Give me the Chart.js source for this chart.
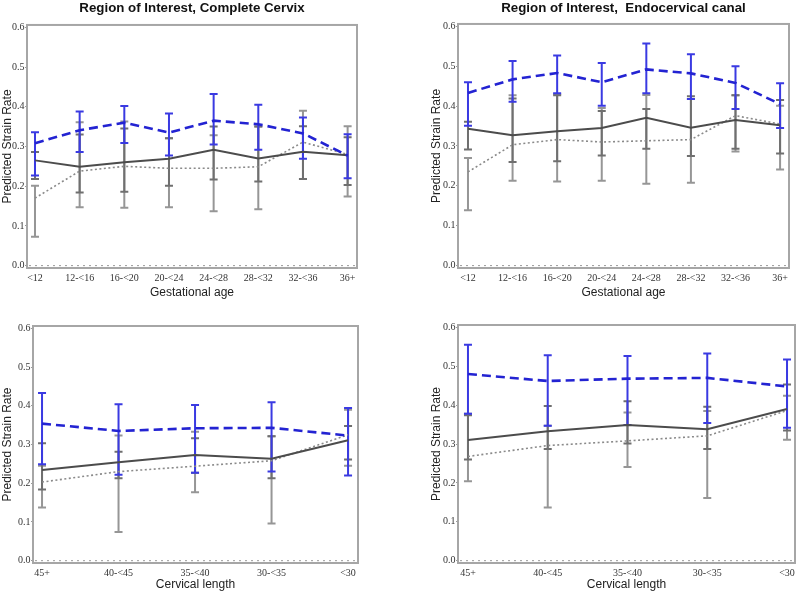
<!DOCTYPE html>
<html><head><meta charset="utf-8">
<script src="https://cdn.jsdelivr.net/npm/chart.js@4"></script>
<style>
html,body{margin:0;padding:0;background:#fff}
body{width:800px;height:595px;position:relative;overflow:hidden}
canvas{position:absolute;display:block}
</style></head><body>
<canvas id="c1" width="400" height="300" style="left:0;top:0;width:400px;height:300px"></canvas>
<canvas id="c2" width="400" height="300" style="left:400px;top:0;width:400px;height:300px"></canvas>
<canvas id="c3" width="400" height="295" style="left:0;top:300px;width:400px;height:295px"></canvas>
<canvas id="c4" width="400" height="295" style="left:400px;top:300px;width:400px;height:295px"></canvas>
<script>
// ---- categories & tick labels ----
const gestAge = ['<12','12-<16','16-<20','20-<24','24-<28','28-<32','32-<36','36+'];
const cervLen = ['45+','40-<45','35-<40','30-<35','<30'];
const yTicks = [0, 0.1, 0.2, 0.3, 0.4, 0.5, 0.6];

// ---- Panel 1: Complete Cervix vs gestational age ----
const ccBlue    = [0.308, 0.341, 0.360, 0.335, 0.365, 0.356, 0.333, 0.277];
const ccBlueLo  = [0.227, 0.286, 0.309, 0.277, 0.305, 0.292, 0.269, 0.220];
const ccBlueHi  = [0.336, 0.388, 0.402, 0.383, 0.432, 0.405, 0.373, 0.331];
const ccSolid   = [0.265, 0.249, 0.260, 0.269, 0.292, 0.270, 0.287, 0.278];
const ccSolidLo = [0.218, 0.184, 0.186, 0.201, 0.217, 0.212, 0.218, 0.203];
const ccSolidHi = [0.286, 0.330, 0.345, 0.321, 0.350, 0.350, 0.351, 0.323];
const ccDot     = [0.170, 0.238, 0.250, 0.245, 0.245, 0.249, 0.311, 0.280];
const ccDotLo   = [0.073, 0.147, 0.146, 0.147, 0.137, 0.142, 0.218, 0.174];
const ccDotHi   = [0.201, 0.361, 0.363, 0.321, 0.328, 0.350, 0.390, 0.351];

// ---- Panel 2: Endocervical canal vs gestational age ----
const ecBlue    = [0.433, 0.467, 0.483, 0.460, 0.492, 0.482, 0.458, 0.405];
const ecBlueLo  = [0.351, 0.411, 0.432, 0.401, 0.432, 0.418, 0.393, 0.345];
const ecBlueHi  = [0.460, 0.513, 0.527, 0.508, 0.557, 0.530, 0.500, 0.457];
const ecSolid   = [0.343, 0.327, 0.337, 0.345, 0.371, 0.346, 0.365, 0.352];
const ecSolidLo = [0.291, 0.260, 0.262, 0.276, 0.293, 0.275, 0.293, 0.281];
const ecSolidHi = [0.361, 0.419, 0.427, 0.388, 0.393, 0.425, 0.427, 0.415];
const ecDot     = [0.235, 0.303, 0.316, 0.310, 0.313, 0.316, 0.376, 0.355];
const ecDotLo   = [0.139, 0.213, 0.211, 0.213, 0.205, 0.208, 0.286, 0.241];
const ecDotHi   = [0.270, 0.427, 0.430, 0.395, 0.428, 0.418, 0.427, 0.401];

// ---- Panel 3: Complete Cervix vs cervical length ----
const clBlue    = [0.354, 0.335, 0.342, 0.343, 0.323];
const clBlueLo  = [0.249, 0.222, 0.227, 0.230, 0.220];
const clBlueHi  = [0.433, 0.404, 0.402, 0.409, 0.394];
const clSolid   = [0.234, 0.254, 0.273, 0.263, 0.311];
const clSolidLo = [0.184, 0.213, 0.227, 0.213, 0.261];
const clSolidHi = [0.303, 0.281, 0.316, 0.321, 0.348];
const clDot     = [0.203, 0.230, 0.244, 0.258, 0.325];
const clDotLo   = [0.137, 0.074, 0.177, 0.096, 0.245];
const clDotHi   = [0.245, 0.323, 0.333, 0.321, 0.390];

// ---- Panel 4: Endocervical canal vs cervical length ----
const elBlue    = [0.480, 0.462, 0.468, 0.470, 0.448];
const elBlueLo  = [0.378, 0.347, 0.349, 0.354, 0.342];
const elBlueHi  = [0.555, 0.528, 0.526, 0.533, 0.517];
const elSolid   = [0.310, 0.333, 0.349, 0.338, 0.390];
const elSolidLo = [0.260, 0.287, 0.301, 0.287, 0.335];
const elSolidHi = [0.374, 0.398, 0.410, 0.396, 0.453];
const elDot     = [0.268, 0.296, 0.308, 0.321, 0.386];
const elDotLo   = [0.204, 0.137, 0.241, 0.161, 0.311];
const elDotHi   = [0.378, 0.347, 0.381, 0.385, 0.424];

// ---- plugins ----
const frame = {
  id: 'frame',
  beforeDatasetsDraw(chart) {
    const {ctx, chartArea: a, scales: {y}} = chart;
    ctx.save();
    const y0 = y.getPixelForValue(0);
    ctx.strokeStyle = '#9a9a9a'; ctx.lineWidth = 1; ctx.setLineDash([2, 4]);
    ctx.beginPath(); ctx.moveTo(a.left + 2, y0); ctx.lineTo(a.right - 2, y0); ctx.stroke();
    ctx.setLineDash([]);
    ctx.strokeStyle = '#a6a6a6'; ctx.lineWidth = 2;
    ctx.strokeRect(a.left, a.top, a.right - a.left, a.bottom - a.top);
    ctx.restore();
  }
};
const errorBars = {
  id: 'errorBars',
  beforeDatasetsDraw(chart) {
    const {ctx, scales: {x, y}} = chart;
    ctx.save();
    ctx.setLineDash([]);
    const ds = chart.data.datasets;
    for (let d = ds.length - 1; d >= 0; d--) {
      const s = ds[d];
      ctx.strokeStyle = s.errColor; ctx.lineWidth = s.errWidth;
      s.errLo.forEach((lo, i) => {
        const px = x.getPixelForValue(i);
        const y1 = y.getPixelForValue(lo), y2 = y.getPixelForValue(s.errHi[i]);
        ctx.beginPath();
        ctx.moveTo(px, y1); ctx.lineTo(px, y2);
        ctx.moveTo(px - 4, y1); ctx.lineTo(px + 4, y1);
        ctx.moveTo(px - 4, y2); ctx.lineTo(px + 4, y2);
        ctx.stroke();
      });
    }
    ctx.restore();
  }
};

function pts(arr) { return arr.map((v, i) => ({x: i, y: v})); }

function makeChart(id, o) {
  const labels = o.labels;
  return new Chart(document.getElementById(id), {
    type: 'line',
    data: {
      datasets: [
        {data: pts(o.blue), errLo: o.blueLo, errHi: o.blueHi, errColor: '#3a3ae2', errWidth: 2,
         borderColor: '#2323d2', borderWidth: 2.6, borderDash: [9, 5], pointRadius: 0, fill: false, tension: 0},
        {data: pts(o.solid), errLo: o.solidLo, errHi: o.solidHi, errColor: '#6f6f6f', errWidth: 2,
         borderColor: '#4c4c4c', borderWidth: 2, pointRadius: 0, fill: false, tension: 0},
        {data: pts(o.dot), errLo: o.dotLo, errHi: o.dotHi, errColor: '#969696', errWidth: 2,
         borderColor: '#8a8a8a', borderWidth: 1.6, borderDash: [2, 2.5], pointRadius: 0, fill: false, tension: 0}
      ]
    },
    options: {
      responsive: false, animation: false, events: [],
      layout: {padding: o.pad},
      plugins: {
        legend: {display: false}, tooltip: {enabled: false},
        title: o.title ? {display: true, text: o.title, fullSize: false, color: '#111',
          font: {family: 'Liberation Sans', size: 13.3, weight: 'bold'},
          padding: {top: 0.5, bottom: o.titleGap}} : {display: false}
      },
      scales: {
        x: {
          type: 'linear', min: o.xmin, max: o.xmax,
          afterBuildTicks: s => { s.ticks = labels.map((_, i) => ({value: i})); },
          afterFit: s => { s.height = o.xh; },
          ticks: {callback: v => labels[v], autoSkip: false, maxRotation: 0, padding: 4,
                  color: '#333', font: {family: 'Liberation Serif', size: 10}},
          grid: {drawOnChartArea: false, drawTicks: false},
          border: {display: false},
          title: {display: true, text: o.xTitle, color: '#222', padding: 0,
                  font: {family: 'Liberation Sans', size: 12}}
        },
        y: {
          min: -0.006, max: 0.606,
          afterBuildTicks: s => { s.ticks = yTicks.map(v => ({value: v})); },
          afterFit: s => { s.width = o.yw; },
          ticks: {callback: v => v.toFixed(1), padding: 0.5, color: '#333',
                  font: {family: 'Liberation Serif', size: 10}},
          grid: {drawOnChartArea: false, tickLength: 2, color: '#999'},
          border: {display: false},
          title: {display: true, text: 'Predicted Strain Rate', color: '#222', padding: 0,
                  font: {family: 'Liberation Sans', size: 12}}
        }
      }
    },
    plugins: [frame, errorBars]
  });
}

makeChart('c1', {labels: gestAge, title: 'Region of Interest, Complete Cervix', titleGap: 8.5,
  blue: ccBlue, blueLo: ccBlueLo, blueHi: ccBlueHi, solid: ccSolid, solidLo: ccSolidLo, solidHi: ccSolidHi,
  dot: ccDot, dotLo: ccDotLo, dotHi: ccDotHi, xTitle: 'Gestational age',
  pad: {left: 0, right: 43, top: 0, bottom: 0}, yw: 27, xh: 32, xmin: -0.179, xmax: 7.21});

makeChart('c2', {labels: gestAge, title: 'Region of Interest,  Endocervical canal', titleGap: 7.5,
  blue: ecBlue, blueLo: ecBlueLo, blueHi: ecBlueHi, solid: ecSolid, solidLo: ecSolidLo, solidHi: ecSolidHi,
  dot: ecDot, dotLo: ecDotLo, dotHi: ecDotHi, xTitle: 'Gestational age',
  pad: {left: 29.5, right: 11, top: 0, bottom: 0}, yw: 28.5, xh: 32, xmin: -0.224, xmax: 7.2});

makeChart('c3', {labels: cervLen, title: null,
  blue: clBlue, blueLo: clBlueLo, blueHi: clBlueHi, solid: clSolid, solidLo: clSolidLo, solidHi: clSolidHi,
  dot: clDot, dotLo: clDotLo, dotHi: clDotHi, xTitle: 'Cervical length',
  pad: {left: 0, right: 42, top: 26, bottom: 3}, yw: 33, xh: 29, xmin: -0.118, xmax: 4.13});

makeChart('c4', {labels: cervLen, title: null,
  blue: elBlue, blueLo: elBlueLo, blueHi: elBlueHi, solid: elSolid, solidLo: elSolidLo, solidHi: elSolidHi,
  dot: elDot, dotLo: elDotLo, dotHi: elDotHi, xTitle: 'Cervical length',
  pad: {left: 29.5, right: 5, top: 25, bottom: 3}, yw: 28.5, xh: 29, xmin: -0.125, xmax: 4.1});
</script>
</body></html>
